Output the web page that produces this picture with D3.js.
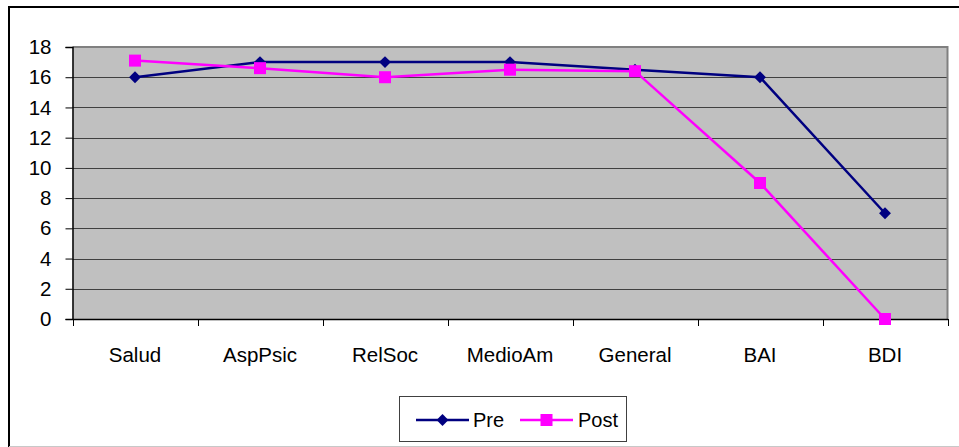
<!DOCTYPE html>
<html>
<head>
<meta charset="utf-8">
<script src="https://cdn.jsdelivr.net/npm/d3@7"></script>
<style>
  html, body { margin: 0; padding: 0; background: #fff; }
  svg { display: block; font-family: "Liberation Sans", Arial, sans-serif; }
</style>
</head>
<body>
<svg id="chart" width="959" height="447"></svg>
<script>
// Scores before and after treatment, per scale
const categories = ["Salud", "AspPsic", "RelSoc", "MedioAm", "General", "BAI", "BDI"];
const preValues  = [16, 17, 17, 17, 16.5, 16, 7];
const postValues = [17.1, 16.6, 16, 16.5, 16.4, 9, 0];
const yTicks = [0, 2, 4, 6, 8, 10, 12, 14, 16, 18];
const seriesNames = ["Pre", "Post"];

const svg = d3.select("#chart");
const W = 959, H = 447;
const plot = { left: 72.5, right: 947.5, top: 47, bottom: 319 };
const FONT = "Liberation Sans, Arial, sans-serif";

// Outer chart frame (open on the right, soft line at the bottom)
svg.append("line").attr("x1", 9).attr("x2", W).attr("y1", 7).attr("y2", 7)
  .attr("stroke", "#000").attr("stroke-width", 2);
svg.append("line").attr("x1", 9).attr("x2", 9).attr("y1", 6).attr("y2", H)
  .attr("stroke", "#000").attr("stroke-width", 2);
svg.append("line").attr("x1", 9).attr("x2", W).attr("y1", 446.5).attr("y2", 446.5)
  .attr("stroke", "#c8c8c8").attr("stroke-width", 1);

const x = d3.scaleBand().domain(categories).range([plot.left, plot.right]);
const y = d3.scaleLinear().domain([0, 18]).range([plot.bottom, plot.top]);

// Plot background
svg.append("rect")
  .attr("x", plot.left).attr("y", plot.top)
  .attr("width", plot.right - plot.left).attr("height", plot.bottom - plot.top)
  .attr("fill", "#c0c0c0");

// Horizontal gridlines
svg.append("g").selectAll("line")
  .data(yTicks.filter(t => t > 0 && t < 18))
  .join("line")
  .attr("x1", plot.left).attr("x2", plot.right)
  .attr("y1", d => Math.round(y(d)) + 0.5).attr("y2", d => Math.round(y(d)) + 0.5)
  .attr("stroke", "#404040").attr("stroke-width", 1);

// Plot border: grey top and right
svg.append("path")
  .attr("d", `M${plot.left},${plot.top} H${plot.right} V${plot.bottom}`)
  .attr("fill", "none").attr("stroke", "#808080").attr("stroke-width", 2);

// Y axis
const yAxis = svg.append("g")
  .attr("transform", `translate(${plot.left},0)`)
  .call(d3.axisLeft(y).tickValues(yTicks).tickSize(7).tickPadding(14).tickFormat(d3.format("d")));
yAxis.attr("font-size", null).attr("font-family", null);
yAxis.selectAll("text").attr("font-size", 20.5).attr("fill", "#000").attr("font-family", FONT);
yAxis.selectAll("line").attr("stroke", "#000");
yAxis.select(".domain").attr("stroke", "#000").attr("stroke-width", 1.5);

// X axis with ticks at band boundaries
const xAxis = svg.append("g")
  .attr("transform", `translate(0,${plot.bottom})`)
  .call(d3.axisBottom(x).tickSize(0).tickPadding(28));
xAxis.attr("font-size", null).attr("font-family", null);
xAxis.selectAll("text").attr("font-size", 20.5).attr("fill", "#000").attr("font-family", FONT);
xAxis.select(".domain").attr("stroke", "#000").attr("stroke-width", 1.5);
const bounds = categories.map(c => x(c)).concat([x(categories[categories.length - 1]) + x.bandwidth()]);
xAxis.selectAll(".bnd").data(bounds).join("line")
  .attr("class", "bnd")
  .attr("x1", d => Math.round(d) + 0.5).attr("x2", d => Math.round(d) + 0.5)
  .attr("y1", 0).attr("y2", 7)
  .attr("stroke", "#000");

const cx = c => x(c) + x.bandwidth() / 2;
const line = d3.line().x(d => cx(d.c)).y(d => y(d.v));

const series = [
  { name: seriesNames[0], values: preValues, color: "#000080", shape: "diamond" },
  { name: seriesNames[1], values: postValues, color: "#ff00ff", shape: "square" }
];

function drawMarker(g, s, px, py) {
  if (s.shape === "square") {
    g.append("rect").attr("x", px - 6).attr("y", py - 6).attr("width", 12).attr("height", 12)
      .attr("fill", s.color);
  } else {
    g.append("path").attr("d", d3.symbol(d3.symbolDiamond2, 90)())
      .attr("transform", `translate(${px},${py})`)
      .attr("fill", s.color);
  }
}

series.forEach(s => {
  const pts = categories.map((c, i) => ({ c, v: s.values[i] }));
  const g = svg.append("g");
  g.append("path").datum(pts).attr("d", line)
    .attr("fill", "none").attr("stroke", s.color).attr("stroke-width", 2.5);
  pts.forEach(p => drawMarker(g, s, cx(p.c), y(p.v)));
});

// Legend
const lg = svg.append("g");
lg.append("rect").attr("x", 399.5).attr("y", 396.5).attr("width", 227).attr("height", 45)
  .attr("fill", "#fff").attr("stroke", "#404040").attr("stroke-width", 1);
const legendItems = [
  { s: series[0], x0: 416, tx: 473 },
  { s: series[1], x0: 520, tx: 578 }
];
legendItems.forEach(it => {
  const ly = 420;
  lg.append("line").attr("x1", it.x0).attr("x2", it.x0 + 53).attr("y1", ly).attr("y2", ly)
    .attr("stroke", it.s.color).attr("stroke-width", 2.5);
  drawMarker(lg, it.s, it.x0 + 26.5, ly);
  lg.append("text").attr("x", it.tx).attr("y", ly).attr("dy", "0.35em")
    .attr("font-size", 20).attr("font-family", FONT).attr("fill", "#000").text(it.s.name);
});
</script>
</body>
</html>
